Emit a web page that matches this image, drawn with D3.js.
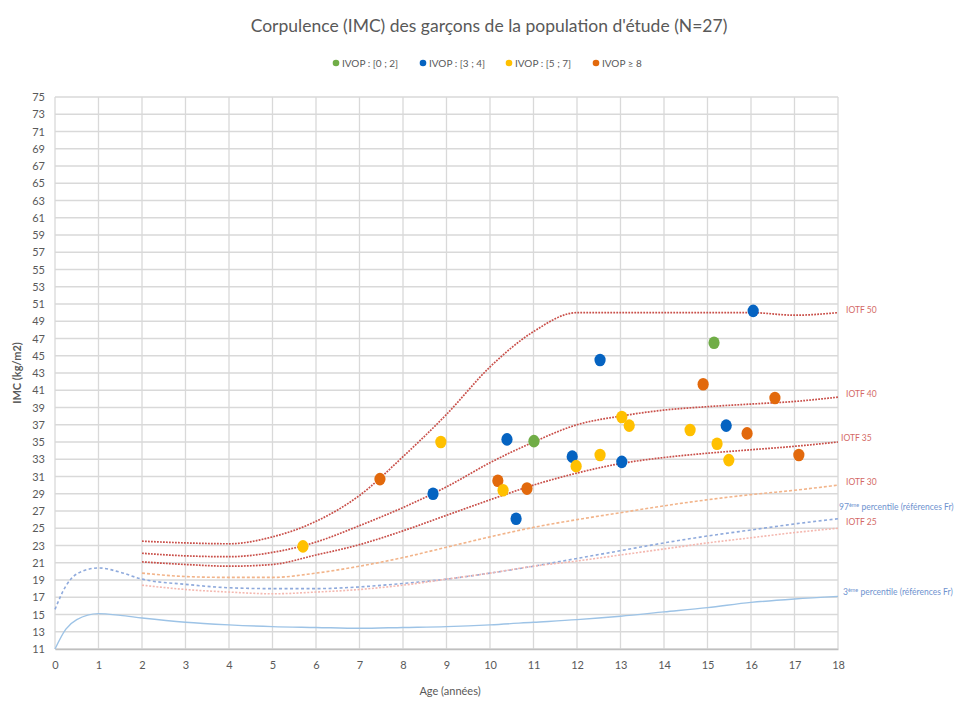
<!DOCTYPE html>
<html><head><meta charset="utf-8">
<script src="https://cdn.jsdelivr.net/npm/d3@7"></script>
<style>body{margin:0;background:#fff}svg{display:block}</style>
</head><body><div id="chart"></div>
<script>
// ---- Data ----
const title = "Corpulence (IMC) des garçons de la population d'étude (N=27)";
const groups = ["IVOP : [0 ; 2]", "IVOP : [3 ; 4]", "IVOP : [5 ; 7]", "IVOP ≥ 8"];
const groupColors = ["#70ad47", "#0563c1", "#ffc000", "#e2690c"];

// Points: age, IMC, group index
const ptAge   = [7.47, 5.70, 8.69, 8.87, 10.39, 11.01, 10.18, 10.30, 10.85, 10.60, 11.89, 11.98, 12.53, 12.53, 13.03, 13.03, 13.20, 14.60, 14.90, 15.15, 15.22, 15.43, 15.49, 15.91, 16.05, 16.55, 17.10];
const ptIMC   = [30.7, 22.9, 29.0, 35.0, 35.3, 35.1, 30.5, 29.4, 29.6, 26.1, 33.3, 32.2, 33.5, 44.5, 32.7, 37.9, 36.9, 36.4, 41.7, 46.5, 34.8, 36.9, 32.9, 36.0, 50.2, 40.1, 33.5];
const ptGroup = [3, 2, 1, 2, 1, 0, 3, 2, 3, 1, 1, 2, 2, 1, 1, 2, 2, 2, 3, 0, 2, 1, 2, 3, 1, 3, 3];

// Reference curves
const iotfAges = [2, 3, 4, 5, 6, 7, 8, 9, 10, 11, 12, 13, 14, 15, 16, 17, 18];
const iotf50 = [23.5, 23.3, 23.2, 24.0, 25.8, 28.8, 33.3, 38.2, 43.7, 47.8, 50.0, 50.0, 50.0, 50.0, 50.0, 49.7, 50.0];
const iotf40 = [22.1, 21.8, 21.7, 22.2, 23.4, 25.3, 27.4, 29.8, 32.6, 35.0, 37.0, 38.0, 38.7, 39.1, 39.4, 39.7, 40.2];
const iotf35 = [21.1, 20.8, 20.6, 20.8, 21.9, 23.1, 24.7, 26.5, 28.3, 30.0, 31.4, 32.5, 33.2, 33.7, 34.1, 34.5, 35.0];
const iotf30 = [19.8, 19.4, 19.3, 19.3, 19.8, 20.6, 21.6, 22.8, 24.0, 25.1, 26.0, 26.8, 27.6, 28.3, 28.9, 29.4, 30.0];
const iotf25 = [18.4, 17.9, 17.6, 17.4, 17.6, 17.9, 18.4, 19.1, 19.8, 20.6, 21.2, 21.9, 22.6, 23.3, 23.9, 24.5, 25.0];

const pctAges = [0, 0.25, 0.5, 1, 1.5, 2, 3, 4, 5, 6, 7, 8, 9, 10, 11, 12, 13, 14, 15, 16, 17, 18];
const p97 = [15.6, 18.3, 19.7, 20.4, 19.9, 19.1, 18.5, 18.1, 18.0, 18.0, 18.2, 18.6, 19.1, 19.8, 20.6, 21.5, 22.4, 23.3, 24.1, 24.8, 25.5, 26.1];
const p3  = [11.0, 13.3, 14.4, 15.1, 14.9, 14.6, 14.1, 13.8, 13.6, 13.5, 13.4, 13.5, 13.6, 13.8, 14.1, 14.4, 14.8, 15.3, 15.8, 16.4, 16.8, 17.1];

const xTicks = d3.range(0, 19, 1);
const yTicks = d3.range(11, 76, 2);

// ---- Layout ----
const W = 965, H = 701;
const m = {left: 55, right: W - 838, top: 97, bottom: H - 649};
const svg = d3.select("#chart").append("svg").attr("width", W).attr("height", H);
const x = d3.scaleLinear().domain([0, 18]).range([m.left, W - m.right]);
const y = d3.scaleLinear().domain([11, 75]).range([H - m.bottom, m.top]);
const font = "Lato, 'Open Sans', sans-serif";

// Title
svg.append("text").attr("x", 489).attr("y", 32).attr("text-anchor", "middle")
  .attr("font-family", font).attr("font-size", 17.5).attr("fill", "#595959").text(title);

// Legend
const legX = [336, 423, 509, 596];
groups.forEach((g, i) => {
  svg.append("circle").attr("cx", legX[i]).attr("cy", 63).attr("r", 3.3).attr("fill", groupColors[i]);
  svg.append("text").attr("x", legX[i] + 6).attr("y", 66.5).attr("font-family", font)
    .attr("font-size", 10).attr("fill", "#595959").text(g);
});

// Grid
const grid = svg.append("g");
grid.selectAll("line.h").data(yTicks).join("line")
  .attr("x1", x(0)).attr("x2", x(18)).attr("y1", d => y(d)).attr("y2", d => y(d))
  .attr("stroke", "#d9d9d9").attr("stroke-width", 1.3);
grid.selectAll("line.v").data(xTicks).join("line")
  .attr("y1", y(11)).attr("y2", y(75)).attr("x1", d => x(d)).attr("x2", d => x(d))
  .attr("stroke", "#d9d9d9").attr("stroke-width", 1.3);

// Axes
const xAxis = svg.append("g").attr("transform", `translate(0,${y(11)})`)
  .call(d3.axisBottom(x).tickValues(xTicks).tickSize(0).tickPadding(12).tickFormat(d3.format("d")));
const yAxis = svg.append("g").attr("transform", `translate(${x(0)},0)`)
  .call(d3.axisLeft(y).tickValues(yTicks).tickSize(0).tickPadding(10).tickFormat(d3.format("d")));
[xAxis, yAxis].forEach(a => {
  a.select(".domain").attr("stroke", "#bfbfbf").attr("stroke-width", 1.3);
  a.selectAll("text").attr("font-family", font).attr("font-size", 11).attr("fill", "#595959");
});
yAxis.select(".domain").remove();

svg.append("text").attr("x", 450).attr("y", 695).attr("text-anchor", "middle")
  .attr("font-family", font).attr("font-size", 11).attr("fill", "#595959").text("Age (années)");
svg.append("text").attr("transform", "translate(21,373) rotate(-90)").attr("text-anchor", "middle")
  .attr("font-family", font).attr("font-size", 11).attr("font-weight", "bold").attr("fill", "#595959").text("IMC (kg/m2)");

// Curves
const line = (ages) => d3.line().x((d, i) => x(ages[i])).y(d => y(d)).curve(d3.curveMonotoneX);
const curves = [
  {ages: pctAges, v: p3,  color: "#9dc3e6", w: 1.4, dash: null},
  {ages: pctAges, v: p97, color: "#8faadc", w: 1.6, dash: "3,2.5"},
  {ages: iotfAges, v: iotf25, color: "#f4b8b0", w: 1.6, dash: "2,1.6"},
  {ages: iotfAges, v: iotf30, color: "#f2b48a", w: 1.6, dash: "3,2"},
  {ages: iotfAges, v: iotf35, color: "#c9504a", w: 1.7, dash: "1.8,1.2"},
  {ages: iotfAges, v: iotf40, color: "#c9504a", w: 1.7, dash: "1.8,1.2"},
  {ages: iotfAges, v: iotf50, color: "#c9504a", w: 1.7, dash: "1.8,1.2"},
];
curves.forEach(c => {
  svg.append("path").attr("d", line(c.ages)(c.v)).attr("fill", "none")
    .attr("stroke", c.color).attr("stroke-width", c.w).attr("stroke-dasharray", c.dash);
});

// Curve labels
const lab = (xp, yp, color, parts) => {
  const t = svg.append("text").attr("x", xp).attr("y", yp).attr("font-family", font)
    .attr("font-size", 8.5).attr("fill", color);
  parts.forEach(p => {
    const ts = t.append("tspan").text(p.t);
    if (p.sup) ts.attr("font-size", 5.5).attr("baseline-shift", "super");
  });
};
const red = "#d46a66", blue = "#6f93cf";
lab(846, 313, red, [{t: "IOTF 50"}]);
lab(846, 397, red, [{t: "IOTF 40"}]);
lab(841, 441, red, [{t: "IOTF 35"}]);
lab(846, 485, red, [{t: "IOTF 30"}]);
lab(839, 510, blue, [{t: "97"}, {t: "ème", sup: true}, {t: " percentile (références Fr)"}]);
lab(846, 525, red, [{t: "IOTF 25"}]);
lab(843, 595, blue, [{t: "3"}, {t: "ème", sup: true}, {t: " percentile (références Fr)"}]);

// Points
svg.append("g").selectAll("ellipse").data(ptAge).join("ellipse")
  .attr("cx", (d) => x(d)).attr("cy", (d, i) => y(ptIMC[i]))
  .attr("rx", 5.6).attr("ry", 6.3)
  .attr("fill", (d, i) => groupColors[ptGroup[i]]);
</script></body></html>
